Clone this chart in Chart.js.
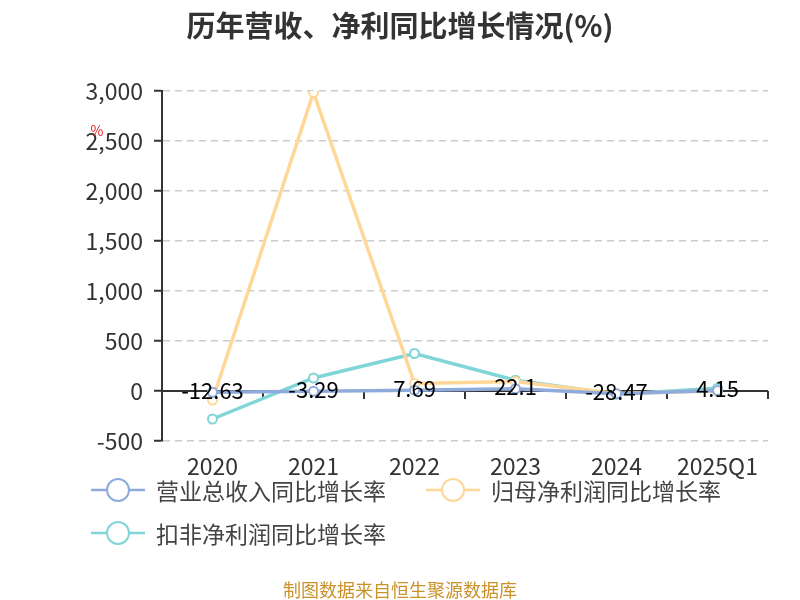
<!DOCTYPE html>
<html>
<head>
<meta charset="utf-8">
<script src="https://cdn.jsdelivr.net/npm/chart.js@4.4.1/dist/chart.umd.min.js"></script>
<style>
  body { margin: 0; background: #fff; font-family: "Noto Sans CJK SC", "Noto Sans", sans-serif; }
  #wrap { position: relative; width: 800px; height: 600px; }
  #title { position: absolute; left: 0; top: 3px; width: 800px; text-align: center; font-size: 29px; font-weight: bold; color: #333; }
  .leg { position: absolute; display: flex; align-items: center; font-size: 23px; color: #444; }
  .leg svg { margin-right: 10px; }
  #foot { position: absolute; left: 0; top: 576px; width: 800px; text-align: center; font-size: 18px; color: #c9922b; }
</style>
</head>
<body>
<div id="wrap">
  <canvas id="growthChart" width="800" height="600"></canvas>
  <div id="title">历年营收、净利同比增长情况(%)</div>
  <div id="legend"></div>
  <div id="foot">制图数据来自恒生聚源数据库</div>
</div>
<script>
let years = ["2020", "2021", "2022", "2023", "2024", "2025Q1"];
let revenueGrowth = [-12.63, -3.29, 7.69, 22.1, -28.47, 4.15];
let netProfitGrowth = [-90, 2985, 75, 95, -25, 0];
let deductedProfitGrowth = [-280, 130, 375, 108, -32, 28];
let yTicks = [-500, 0, 500, 1000, 1500, 2000, 2500, 3000];

let seriesNames = ["营业总收入同比增长率", "归母净利润同比增长率", "扣非净利润同比增长率"];
let seriesColors = ["#8eabdb", "#ffd797", "#7fd5d8"];

// legend as html, echarts style symbol
let legendPos = [[90, 473], [425, 473], [90, 516]];
let legendBox = document.getElementById("legend");
seriesNames.forEach(function (name, i) {
    let d = document.createElement("div");
    d.className = "leg";
    d.style.left = legendPos[i][0] + "px";
    d.style.top = legendPos[i][1] + "px";
    d.innerHTML = '<svg width="56" height="26"><line x1="1" y1="13" x2="55" y2="13" stroke="' + seriesColors[i] +
        '" stroke-width="2.5"/><circle cx="28" cy="13" r="11" fill="#fff" stroke="' + seriesColors[i] +
        '" stroke-width="2"/></svg>' + name;
    legendBox.appendChild(d);
});

// axis line at zero (under the lines), value labels and the small % mark (on top)
let extras = {
    id: "extras",
    beforeDatasetsDraw(chart) {
        let c = chart.ctx;
        let x = chart.scales.x, y = chart.scales.y;
        let y0 = y.getPixelForValue(0);
        c.save();
        c.strokeStyle = "#333";
        c.lineWidth = 2;
        c.beginPath();
        c.moveTo(x.left, y0);
        c.lineTo(x.right, y0);
        for (let i = 0; i <= years.length; i++) {
            let px = x.left + (x.right - x.left) * i / years.length;
            c.moveTo(px, y0);
            c.lineTo(px, y0 + 8);
        }
        c.stroke();
        c.restore();
    },
    afterDatasetsDraw(chart) {
        let c = chart.ctx;
        let x = chart.scales.x, y = chart.scales.y;
        c.save();
        c.fillStyle = "#000";
        c.font = "22px 'Noto Sans CJK SC'";
        c.textAlign = "center";
        c.textBaseline = "middle";
        revenueGrowth.forEach(function (v, i) {
            c.fillText(String(v), x.getPixelForValue(i), y.getPixelForValue(v) - 2);
        });

        c.fillStyle = "#e02020";
        c.font = "14px 'Noto Sans CJK SC'";
        c.fillText("%", 97, 131);
        c.restore();
    }
};

function line(label, data, color) {
    return {
        label: label,
        data: data,
        borderColor: color,
        borderWidth: 3.5,
        pointRadius: 4.5,
        pointBorderWidth: 2,
        pointBackgroundColor: "#fff",
        pointBorderColor: color,
        tension: 0
    };
}

let ctx = document.getElementById("growthChart").getContext("2d");
let growthChart = new Chart(ctx, {
    type: "line",
    data: {
        labels: years,
        datasets: [
            line(seriesNames[0], revenueGrowth, seriesColors[0]),
            line(seriesNames[1], netProfitGrowth, seriesColors[1]),
            line(seriesNames[2], deductedProfitGrowth, seriesColors[2])
        ]
    },
    options: {
        responsive: false,
        animation: false,
        layout: { padding: { top: 91, right: 32, bottom: 119, left: 0 } },
        plugins: { legend: { display: false }, title: { display: false }, tooltip: { enabled: false } },
        scales: {
            x: {
                offset: true,
                grid: { display: false },
                border: { display: false },
                ticks: { color: "#333", font: { size: 23, family: "Noto Sans CJK SC" }, padding: 3, maxRotation: 0 },
                afterFit: function (s) { s.height = 40; }
            },
            y: {
                min: -500,
                max: 3000,
                afterBuildTicks: function (s) { s.ticks = yTicks.map(v => ({ value: v })); },
                grid: { color: "#cccccc", lineWidth: 1.5, tickLength: 8, tickColor: "#333", tickWidth: 2 },
                border: { display: true, color: "#333", width: 2, dash: [7, 5] },
                ticks: {
                    color: "#333",
                    padding: 11,
                    font: { size: 23, family: "Noto Sans CJK SC" },
                    callback: function (v) { return v.toLocaleString("en-US"); }
                },
                afterFit: function (s) { s.width = 162; }
            }
        }
    },
    plugins: [extras]
});
</script>
</body>
</html>
